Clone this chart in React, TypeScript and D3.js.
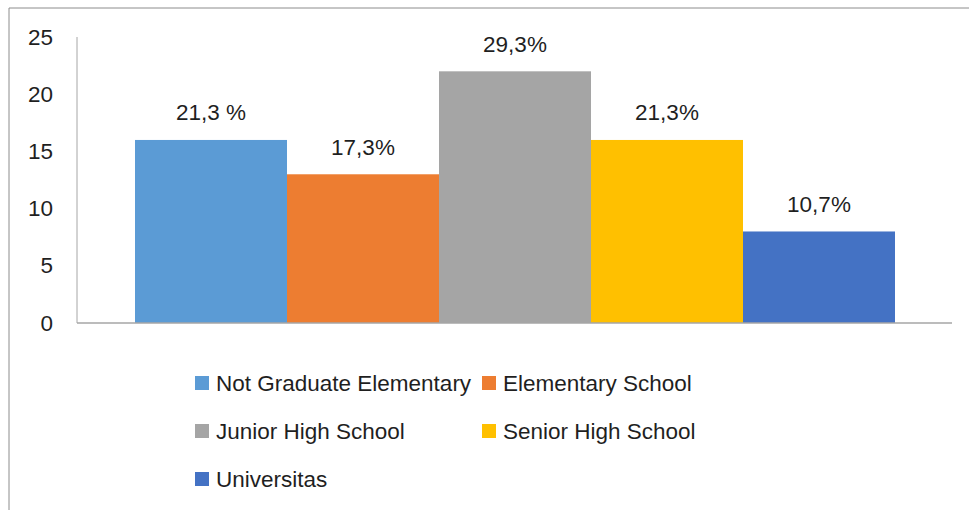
import React from "react";
import * as d3 from "d3";

const categories = [
  "Not Graduate Elementary",
  "Elementary School",
  "Junior High School",
  "Senior High School",
  "Universitas",
];
const values = [16, 13, 22, 16, 8];
const valueLabels = ["21,3 %", "17,3%", "29,3%", "21,3%", "10,7%"];
const colors = ["#5B9BD5", "#ED7D31", "#A5A5A5", "#FFC000", "#4472C4"];
const yTicks = [0, 5, 10, 15, 20, 25];

const W = 969;
const H = 510;
const FONT = "'Liberation Sans', Arial, sans-serif";
const TEXT = "#1f1f1f";
const FS = 22.5;

export default function App() {
  const axisX = 77;
  const axisRight = 952;
  const y = d3.scaleLinear().domain([0, 25]).range([323, 37]);
  const x = d3.scaleBand<string>().domain(categories).range([135, 895]).padding(0);
  const legendCols = [195, 482];
  const legendRows = [383, 431, 479];

  return (
    <svg
      width={W}
      height={H}
      style={{ position: "absolute", left: 0, top: 0, background: "#fff" }}
      fontFamily={FONT}
    >
      {/* frame */}
      <line x1={9} y1={8} x2={W} y2={8} stroke="#8c8c8c" strokeWidth={1} />
      <line x1={9} y1={8} x2={9} y2={H} stroke="#8c8c8c" strokeWidth={1} />

      {/* bars */}
      {categories.map((c, i) => (
        <rect
          key={c}
          x={x(c)}
          y={y(values[i])}
          width={x.bandwidth()}
          height={y(0) - y(values[i])}
          fill={colors[i]}
        />
      ))}

      {/* axes */}
      <line x1={axisX} y1={y(25)} x2={axisX} y2={y(0)} stroke="#a6a6a6" strokeWidth={1} />
      <line x1={axisX} y1={y(0)} x2={axisRight} y2={y(0)} stroke="#a6a6a6" strokeWidth={1.5} />

      {/* y tick labels */}
      {yTicks.map((t) => (
        <text
          key={t}
          x={53}
          y={y(t)}
          textAnchor="end"
          dominantBaseline="central"
          fontSize={FS}
          fill={TEXT}
        >
          {t}
        </text>
      ))}

      {/* data labels */}
      {categories.map((c, i) => (
        <text
          key={c}
          x={(x(c) as number) + x.bandwidth() / 2}
          y={y(values[i]) - 27}
          textAnchor="middle"
          dominantBaseline="central"
          fontSize={FS}
          fill={TEXT}
        >
          {valueLabels[i]}
        </text>
      ))}

      {/* legend */}
      {categories.map((c, i) => {
        const lx = legendCols[i % 2];
        const ly = legendRows[Math.floor(i / 2)];
        return (
          <g key={c}>
            <rect x={lx} y={ly - 7} width={14} height={14} fill={colors[i]} />
            <text
              x={lx + 21}
              y={ly}
              dominantBaseline="central"
              fontSize={FS}
              fill={TEXT}
            >
              {c}
            </text>
          </g>
        );
      })}
    </svg>
  );
}
